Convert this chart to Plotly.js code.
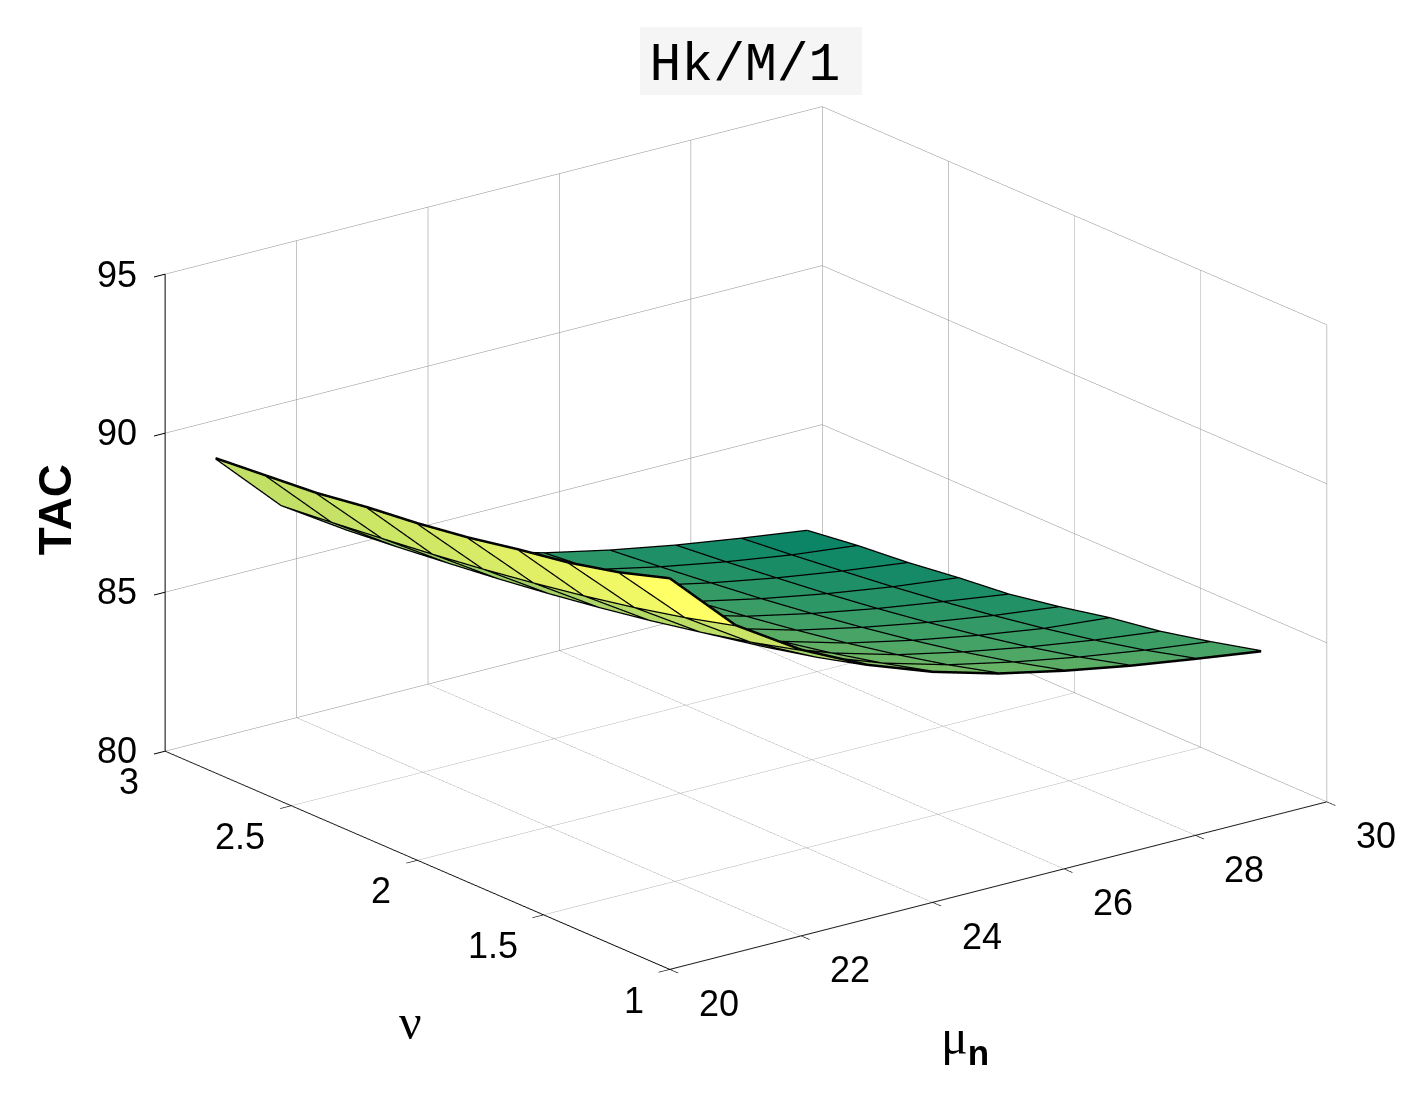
<!DOCTYPE html>
<html>
<head>
<meta charset="utf-8">
<script src="https://cdn.plot.ly/plotly-3.0.1.min.js"></script>
<style>
  html, body { margin: 0; padding: 0; background: #fff; }
  #tac3d { width: 1425px; height: 1102px; }
</style>
</head>
<body>
<div id="tac3d"></div>
<script>
// grid of the surface
var mu = [20, 21, 22, 23, 24, 25, 26, 27, 28, 29];
var nu = [1.0, 1.2, 1.4, 1.6, 1.8, 2.0, 2.2, 2.4, 2.6, 2.8];

// TAC values, one row per nu, columns follow mu
var tac = [
  [92.30, 90.30, 89.00, 88.00, 87.25, 86.67, 86.23, 85.86, 85.55, 85.26], // nu 1.0
  [91.80, 89.87, 88.57, 87.57, 86.82, 86.24, 85.80, 85.43, 85.12, 84.86], // nu 1.2
  [91.42, 89.50, 88.20, 87.20, 86.45, 85.87, 85.43, 85.06, 84.75, 84.50], // nu 1.4
  [91.15, 89.18, 87.88, 86.88, 86.13, 85.55, 85.11, 84.74, 84.43, 84.24], // nu 1.6
  [90.84, 88.90, 87.60, 86.60, 85.85, 85.27, 84.83, 84.46, 84.15, 83.90], // nu 1.8
  [90.60, 88.65, 87.35, 86.35, 85.60, 85.02, 84.58, 84.21, 83.90, 83.61], // nu 2.0
  [90.42, 88.43, 87.13, 86.13, 85.38, 84.80, 84.36, 83.99, 83.68, 83.44], // nu 2.2
  [90.18, 88.24, 86.94, 85.94, 85.19, 84.61, 84.17, 83.80, 83.49, 83.23], // nu 2.4
  [90.04, 88.06, 86.76, 85.76, 85.01, 84.43, 83.99, 83.62, 83.31, 83.08], // nu 2.6
  [89.90, 87.90, 86.60, 85.60, 84.85, 84.27, 83.83, 83.46, 83.15, 82.87]  // nu 2.8
];

var muTicks = [20, 22, 24, 26, 28, 30];
var nuTicks = [1, 1.5, 2, 2.5, 3];
var tacTicks = [80, 85, 90, 95];

// matlab "summer" colormap, flat faces (colour of the first corner)
function summer(t) {
  var r = Math.round(255 * t), g = Math.round(255 * (0.5 + 0.5 * t)), b = 102;
  return 'rgb(' + r + ',' + g + ',' + b + ')';
}

var nx = mu.length, ny = nu.length;
var zmin = Infinity, zmax = -Infinity;
tac.forEach(function (row) { row.forEach(function (v) { zmin = Math.min(zmin, v); zmax = Math.max(zmax, v); }); });

var vx = [], vy = [], vz = [];
for (var j = 0; j < ny; j++) {
  for (var i = 0; i < nx; i++) { vx.push(mu[i]); vy.push(nu[j]); vz.push(tac[j][i]); }
}
var ti = [], tj = [], tk = [], fc = [];
for (var j = 0; j < ny - 1; j++) {
  for (var i = 0; i < nx - 1; i++) {
    var a = j * nx + i, b = a + 1, c = a + nx + 1, d = a + nx;
    var col = summer((tac[j][i] - zmin) / (zmax - zmin));
    ti.push(a, a); tj.push(b, c); tk.push(c, d);
    fc.push(col, col);
  }
}

var faces = {
  type: 'mesh3d',
  x: vx, y: vy, z: vz, i: ti, j: tj, k: tk,
  facecolor: fc,
  flatshading: true,
  lighting: { ambient: 1, diffuse: 0, specular: 0, roughness: 1, fresnel: 0 },
  hoverinfo: 'skip',
  showscale: false
};

// black mesh edges, one trace per grid line
var edgeTraces = [];
function edge(xs, ys, zs) {
  edgeTraces.push({
    type: 'scatter3d', mode: 'lines', x: xs, y: ys, z: zs,
    line: { color: '#000', width: 5 }, hoverinfo: 'skip', showlegend: false
  });
}
for (var j = 0; j < ny; j++) {
  edge(mu.slice(), mu.map(function () { return nu[j]; }), tac[j].slice());
}
for (var i = 0; i < nx; i++) {
  edge(nu.map(function () { return mu[i]; }), nu.slice(), tac.map(function (r) { return r[i]; }));
}

function axis(range, vals) {
  return {
    range: range, tickvals: vals, autorange: false,
    title: { text: '' },
    showticklabels: false,
    showgrid: true, gridcolor: '#8a8a8a', gridwidth: 1,
    showline: true, linecolor: '#000', linewidth: 2,
    ticks: 'outside', ticklen: 14, tickcolor: '#000', tickwidth: 2,
    zeroline: false, showbackground: false, showspikes: false
  };
}

// upright tick labels placed through the scene's own 3d scales
var tickFont = { family: 'Liberation Sans, Arial, sans-serif', size: 36, color: '#000' };
var tickLabels = [];
tacTicks.forEach(function (v) {
  tickLabels.push({ x: 20, y: 3, z: v, text: String(v), showarrow: false,
    xanchor: 'right', yanchor: 'middle', xshift: -26, yshift: 0, font: tickFont });
});
nuTicks.forEach(function (v) {
  tickLabels.push({ x: 20, y: v, z: 80, text: String(v), showarrow: false,
    xanchor: 'right', yanchor: 'middle', xshift: -24, yshift: -31, font: tickFont });
});
muTicks.forEach(function (v) {
  tickLabels.push({ x: v, y: 1, z: 80, text: String(v), showarrow: false,
    xanchor: 'left', yanchor: 'middle', xshift: 27, yshift: -34, font: tickFont });
});

var labelFont = { family: 'Liberation Serif, serif', size: 50, color: '#000' };
var layout = {
  width: 1425, height: 1102,
  margin: { l: 0, r: 0, t: 0, b: 0 },
  paper_bgcolor: '#fff',
  showlegend: false,
  title: {
    text: 'Hk/M/1',
    font: { family: 'Liberation Mono, Courier New, monospace', size: 53, color: '#000' },
    x: 0.5228, xanchor: 'center', y: 0.9446, yanchor: 'middle'
  },
  shapes: [{
    type: 'rect', xref: 'paper', yref: 'paper', layer: 'below',
    x0: 0.449, x1: 0.605, y0: 0.9138, y1: 0.9755,
    fillcolor: '#f5f5f5', line: { width: 0 }
  }],
  annotations: [
    { text: '<b>TAC</b>', xref: 'paper', yref: 'paper', x: 0.0386, y: 0.537, textangle: -90,
      xanchor: 'center', yanchor: 'middle', showarrow: false,
      font: { family: 'Liberation Sans, Arial, sans-serif', size: 46, color: '#000' } },
    { text: 'ν', xref: 'paper', yref: 'paper', x: 0.288, y: 0.0726,
      xanchor: 'center', yanchor: 'middle', showarrow: false, font: labelFont },
    { text: 'μ<sub><span style="font-family:Liberation Sans"><b>n</b></span></sub>',
      xref: 'paper', yref: 'paper', x: 0.677, y: 0.056,
      xanchor: 'center', yanchor: 'middle', showarrow: false, font: labelFont }
  ],
  scene: {
    domain: { x: [0.047, 1], y: [0.024, 1] },
    xaxis: axis([20, 30], muTicks),
    yaxis: axis([1, 3], nuTicks),
    zaxis: axis([80, 95], tacTicks),
    aspectmode: 'manual',
    aspectratio: { x: 1.54, y: 1.54, z: 0.94 },
    camera: {
      eye: { x: -0.794, y: -1.034, z: 0.459 },
      center: { x: 0, y: 0, z: 0 },
      up: { x: 0, y: 0, z: 1 },
      projection: { type: 'orthographic' }
    },
    annotations: tickLabels
  }
};

Plotly.newPlot('tac3d', [faces].concat(edgeTraces), layout, { displayModeBar: false });
</script>
</body>
</html>
